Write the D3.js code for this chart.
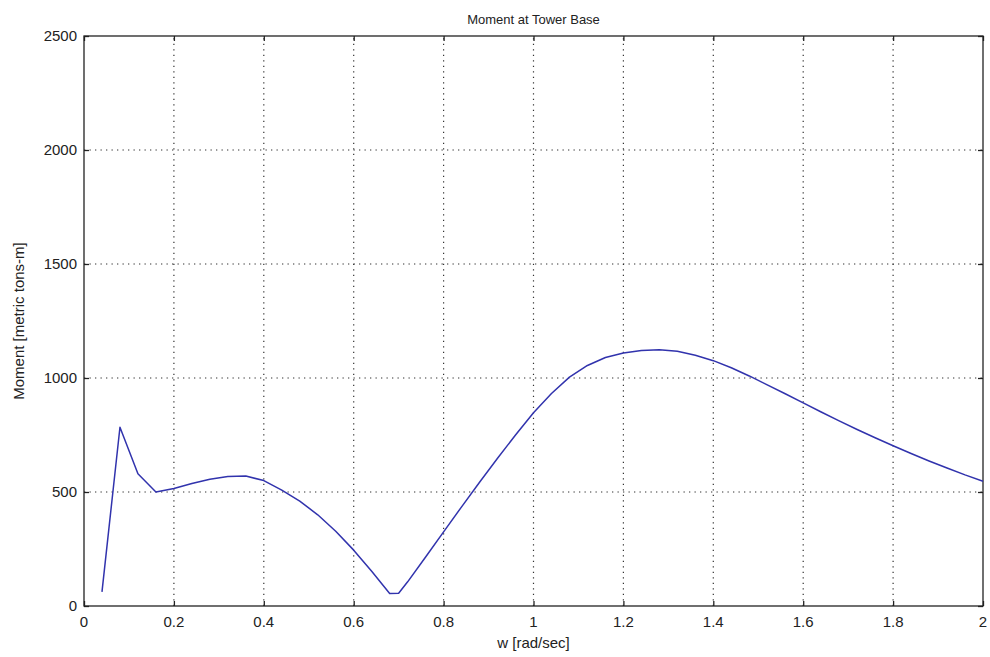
<!DOCTYPE html>
<html>
<head>
<meta charset="utf-8">
<script src="https://cdn.jsdelivr.net/npm/d3@7"></script>
<style>
  body { margin: 0; background: #fff; }
  svg text { font-family: "Liberation Sans", Arial, sans-serif; fill: #222; }
</style>
</head>
<body>
<div id="chart"></div>
<script>
// frequency samples [rad/sec]
const wValues = [
  0.04, 0.08, 0.12, 0.16, 0.20, 0.24, 0.28, 0.32, 0.36, 0.40,
  0.44, 0.48, 0.52, 0.56, 0.60, 0.64, 0.68, 0.70, 0.72, 0.76,
  0.80, 0.84, 0.88, 0.92, 0.96, 1.00, 1.04, 1.08, 1.12, 1.16,
  1.20, 1.24, 1.28, 1.32, 1.36, 1.40, 1.44, 1.48, 1.52, 1.56,
  1.60, 1.64, 1.68, 1.72, 1.76, 1.80, 1.84, 1.88, 1.92, 1.96, 2.00
];
// moment [metric tons-m]
const momentValues = [
  62, 784, 580, 500, 515, 537, 556, 568, 570, 550,
  508, 460, 400, 328, 245, 152, 55, 56, 106, 215,
  325, 435, 543, 648, 750, 848, 932, 1004, 1055, 1090,
  1110, 1121, 1124, 1117, 1100, 1076, 1045, 1009, 970, 931,
  891, 851, 812, 774, 738, 703, 669, 636, 605, 575, 547
];
const xTicks = [0, 0.2, 0.4, 0.6, 0.8, 1, 1.2, 1.4, 1.6, 1.8, 2];
const yTicks = [0, 500, 1000, 1500, 2000, 2500];

const width = 990, height = 657;
const margin = { top: 36, right: 7, bottom: 51, left: 84 };

const data = wValues.map((w, i) => ({ w: w, m: momentValues[i] }));

const x = d3.scaleLinear()
  .domain([0, 2])
  .range([margin.left, width - margin.right]);

const y = d3.scaleLinear()
  .domain([0, 2500])
  .range([height - margin.bottom, margin.top]);

const svg = d3.select("#chart")
  .append("svg")
  .attr("width", width)
  .attr("height", height);

// grid punteado
svg.append("g")
  .selectAll("line")
  .data(xTicks.slice(1, -1))
  .join("line")
  .attr("x1", d => x(d)).attr("x2", d => x(d))
  .attr("y1", y(0)).attr("y2", y(2500))
  .attr("stroke", "#333")
  .attr("stroke-width", 1.2)
  .attr("stroke-dasharray", "1.3,4.2");

svg.append("g")
  .selectAll("line")
  .data(yTicks.slice(1, -1))
  .join("line")
  .attr("x1", x(0)).attr("x2", x(2))
  .attr("y1", d => y(d)).attr("y2", d => y(d))
  .attr("stroke", "#333")
  .attr("stroke-width", 1.2)
  .attr("stroke-dasharray", "1.3,4.2");

// eixos (ticks cap a dins, estil MATLAB)
svg.append("g")
  .attr("transform", `translate(0,${y(0)})`)
  .call(d3.axisTop(x).tickValues(xTicks).tickSize(5).tickFormat(""))
  .select(".domain").remove();

svg.append("g")
  .attr("transform", `translate(0,${y(2500)})`)
  .call(d3.axisBottom(x).tickValues(xTicks).tickSize(5).tickFormat(""))
  .select(".domain").remove();

svg.append("g")
  .attr("transform", `translate(${x(0)},0)`)
  .call(d3.axisRight(y).tickValues(yTicks).tickSize(5).tickFormat(""))
  .select(".domain").remove();

svg.append("g")
  .attr("transform", `translate(${x(2)},0)`)
  .call(d3.axisLeft(y).tickValues(yTicks).tickSize(5).tickFormat(""))
  .select(".domain").remove();

svg.selectAll(".tick line").attr("stroke", "#222").attr("stroke-width", 1.3);

// caixa
svg.append("rect")
  .attr("x", x(0))
  .attr("y", y(2500))
  .attr("width", x(2) - x(0))
  .attr("height", y(0) - y(2500))
  .attr("fill", "none")
  .attr("stroke", "#222")
  .attr("stroke-width", 1.3);

// etiquetes dels ticks
svg.append("g")
  .selectAll("text")
  .data(xTicks)
  .join("text")
  .attr("x", d => x(d))
  .attr("y", y(0) + 21)
  .attr("text-anchor", "middle")
  .style("font-size", "15px")
  .text(d => d3.format("")(d));

svg.append("g")
  .selectAll("text")
  .data(yTicks)
  .join("text")
  .attr("x", x(0) - 7)
  .attr("y", d => y(d) + 5)
  .attr("text-anchor", "end")
  .style("font-size", "15px")
  .text(d => d);

// línia de dades
const line = d3.line()
  .x(d => x(d.w))
  .y(d => y(d.m));

svg.append("path")
  .datum(data)
  .attr("fill", "none")
  .attr("stroke", "#3133ad")
  .attr("stroke-width", 1.5)
  .attr("stroke-linejoin", "round")
  .attr("d", line);

// títols
svg.append("text")
  .attr("x", (x(0) + x(2)) / 2)
  .attr("y", 24)
  .attr("text-anchor", "middle")
  .style("font-size", "13px")
  .text("Moment at Tower Base");

svg.append("text")
  .attr("x", (x(0) + x(2)) / 2)
  .attr("y", y(0) + 42)
  .attr("text-anchor", "middle")
  .style("font-size", "15px")
  .text("w [rad/sec]");

svg.append("text")
  .attr("transform", `translate(24,${(y(0) + y(2500)) / 2}) rotate(-90)`)
  .attr("text-anchor", "middle")
  .style("font-size", "15px")
  .text("Moment [metric tons-m]");
</script>
</body>
</html>
